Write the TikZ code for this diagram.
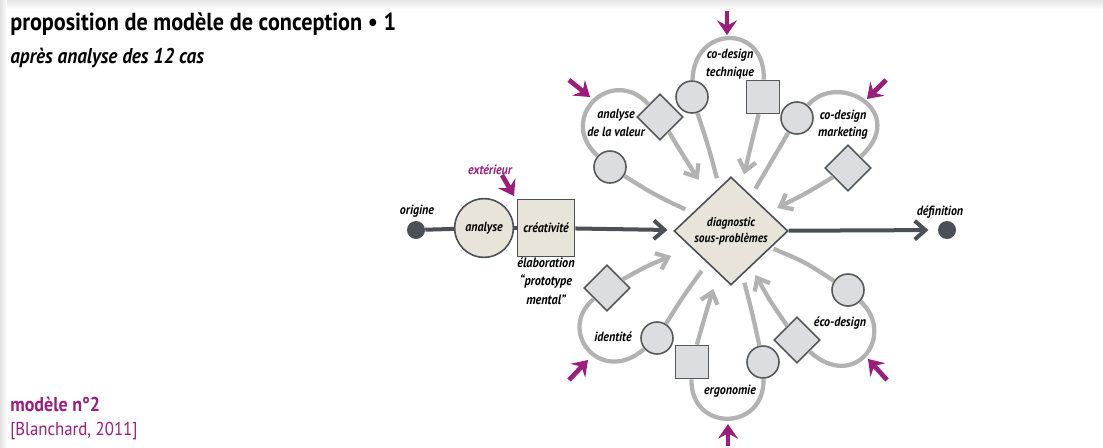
\documentclass[tikz,border=0pt]{standalone}
\usepackage{fontspec}
\setmainfont{PT Sans}[FakeStretch=0.9]
\usetikzlibrary{arrows.meta,shapes.geometric}
\definecolor{dk}{RGB}{75,79,87}
\definecolor{beige}{RGB}{232,228,218}
\definecolor{sg}{RGB}{220,221,224}
\definecolor{bd}{RGB}{88,89,91}
\definecolor{lg}{RGB}{178,178,178}
\definecolor{pu}{RGB}{155,30,125}
\begin{document}
\begin{tikzpicture}[x=0.75pt,y=-0.75pt,
  lbl/.style={font=\bfseries\itshape\fontsize{10}{13}\selectfont, align=center, inner sep=0},
  scirc/.style={circle, draw=bd, fill=sg, line width=1.2pt, minimum size=24pt, inner sep=0},
  ssq/.style={rectangle, draw=bd, fill=sg, line width=1.2pt, minimum size=24.75pt, inner sep=0},
  sdia/.style={diamond, draw=bd, fill=sg, line width=1.2pt, minimum width=34.5pt, minimum height=34.5pt, inner sep=0},
  loopline/.style={draw=lg, line width=3.2pt},
  back/.style={loopline, -{Straight Barb[length=8pt,width=13pt]}},
  darkline/.style={draw=dk, line width=3pt},
  darkarrow/.style={darkline, -{Straight Barb[length=8pt,width=14pt]}},
  pin/.style={draw=pu, line width=3.5pt, -{Stealth[length=11pt,width=15pt,inset=4pt]}},
  dot/.style={circle, fill=dk, minimum size=13.5pt, inner sep=0}
]
\useasboundingbox (0,0) rectangle (1103,447);
\fill[white] (0,0) rectangle (1103,447);
\shade[top color=black!10, bottom color=white] (0,0) rectangle (1103,9);
\shade[left color=black!12, right color=white] (0,0) rectangle (7,447);

% titles
\node[anchor=base west, font=\bfseries\fontsize{18.5}{20}\selectfont, inner sep=0] (title) at (10,30) {proposition de modèle de conception • 1};
\node[anchor=base west, font=\bfseries\itshape\fontsize{16}{18}\selectfont, inner sep=0] (sub) at (10,63) {après analyse des 12 cas};
\node[anchor=base west, font=\bfseries\fontsize{15}{17}\selectfont, text=pu, inner sep=0] (mod) at (10,411) {modèle n°2};
\node[anchor=base west, font=\fontsize{14}{16}\selectfont, text=pu, inner sep=0] (ref) at (10,435) {[Blanchard, 2011]};

% main chain
\node[dot] (orig) at (416,230) {};
\node[circle, draw=dk, fill=beige, line width=1.2pt, minimum size=44pt, inner sep=0, font=\bfseries\itshape\fontsize{10}{12}\selectfont] (ana) at (484,228) {analyse};
\node[rectangle, draw=dk, fill=beige, line width=1.2pt, minimum size=42.75pt, inner sep=0, font=\bfseries\itshape\fontsize{10}{12}\selectfont] (crea) at (546,228) {créativité};
\node[diamond, draw=dk, fill=beige, line width=1.2pt, minimum width=85.5pt, minimum height=81pt, inner sep=0, align=center, font=\bfseries\itshape\fontsize{9.6}{12}\selectfont] (C) at (731,231) {diagnostic\\sous-problèmes};
\node[dot] (def) at (947,230) {};

\draw[darkline] (orig) -- (ana);
\draw[darkline] (ana) -- (crea);
\draw[darkarrow, shorten >=5pt] (crea) -- (C);
\draw[darkarrow, shorten >=7pt] (C) -- (def);

% loop shapes
\node[scirc] (avC) at (610,167) {};
\node[sdia] (avD) at (660,117) {};
\node[scirc] (ctC) at (692,97) {};
\node[ssq] (ctS) at (763,97) {};
\node[scirc] (cmC) at (797,118) {};
\node[sdia] (cmD) at (848,168) {};
\node[scirc] (edC) at (848,290) {};
\node[sdia] (edD) at (797,340) {};
\node[scirc] (erC) at (763,362) {};
\node[ssq] (erS) at (692,362) {};
\node[scirc] (idC) at (657,338) {};
\node[sdia] (idD) at (607,288) {};

% start lines
\draw[loopline, shorten <=6pt] (C) .. controls (655,195) .. (avC);
\draw[loopline, shorten <=7pt] (C) .. controls (708,145) .. (ctC);
\draw[loopline, shorten <=6pt] (C) .. controls (772,160) .. (cmC);
\draw[loopline, shorten <=2pt] (C) .. controls (805,262) .. (edC);
\draw[loopline, shorten <=6pt] (C) .. controls (752,312) .. (erC);
\draw[loopline, shorten <=7pt] (C) .. controls (684,295) .. (idC);

% loops
\draw[loopline] (avC) .. controls (556,118) and (612,64) .. (avD);
\draw[loopline] (ctC) .. controls (694,24) and (766,24) .. (ctS);
\draw[loopline] (cmC) .. controls (838,70) and (910,112) .. (cmD);
\draw[loopline] (edC) .. controls (897,335) and (855,393) .. (edD);
\draw[loopline] (erC) .. controls (765,432) and (690,432) .. (erS);
\draw[loopline] (idC) .. controls (600,387) and (556,330) .. (idD);

% return arrows
\draw[back, shorten >=15pt] (avD) .. controls (681,152) .. (C);
\draw[back, shorten >=9pt] (ctS) .. controls (751,145) .. (C);
\draw[back, shorten >=7pt] (cmD) .. controls (805,194) .. (C);
\draw[back, shorten >=7pt] (edD) .. controls (770,301) .. (C);
\draw[back, shorten >=12pt] (erS) .. controls (705,316) .. (C);
\draw[back, shorten >=16pt] (idD) .. controls (647,266) .. (C);

% labels
\node[lbl] (origl) at (417,211) {origine};
\node[lbl, font=\bfseries\itshape\fontsize{10.2}{14}\selectfont, anchor=north] (elab) at (546,257) {élaboration\\“prototype\\mental”};
\node[lbl, text=pu] (ext) at (490,170) {extérieur};
\node[lbl] (defl) at (940,212) {définition};
\node[lbl] (avL) at (616,123) {analyse\\de la valeur};
\node[lbl] (ctL) at (730,64) {co-design\\technique};
\node[lbl] (cmL) at (843,125) {co-design\\marketing};
\node[lbl] (edL) at (840,323) {éco-design};
\node[lbl] (erL) at (730,391) {ergonomie};
\node[lbl] (idL) at (613,337) {identité};

% purple external inputs
\coordinate (pE1) at (502,175); \coordinate (pE2) at (514,196);
\coordinate (pA1) at (569,80); \coordinate (pA2) at (590,97);
\coordinate (pT1) at (727,11); \coordinate (pT2) at (727,35);
\coordinate (pM1) at (886,80); \coordinate (pM2) at (867,99);
\coordinate (pD1) at (887,380); \coordinate (pD2) at (868,359);
\coordinate (pR1) at (728,446); \coordinate (pR2) at (728,424);
\coordinate (pI1) at (569,380); \coordinate (pI2) at (588,360);
\draw[pin] (pE1) -- (pE2);
\draw[pin] (pA1) -- (pA2);
\draw[pin] (pT1) -- (pT2);
\draw[pin] (pM1) -- (pM2);
\draw[pin] (pD1) -- (pD2);
\draw[pin] (pR1) -- (pR2);
\draw[pin] (pI1) -- (pI2);
\end{tikzpicture}
\end{document}
